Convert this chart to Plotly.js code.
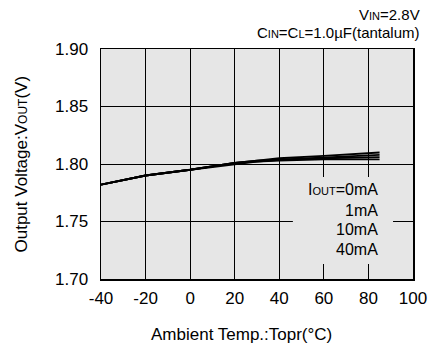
<!DOCTYPE html>
<html>
<head>
<meta charset="utf-8">
<script src="https://cdn.plot.ly/plotly-3.0.1.min.js"></script>
<style>html,body{margin:0;padding:0;background:#fff;}#chart{width:435px;height:348px;}</style>
</head>
<body>
<div id="chart"></div>
<script>
const temps = [-40, -20, 0, 20, 30, 40, 60, 85];
const vout0mA  = [1.782, 1.790, 1.795, 1.801, 1.803, 1.805, 1.807, 1.810];
const vout1mA  = [1.782, 1.790, 1.795, 1.801, 1.803, 1.804, 1.806, 1.808];
const vout10mA = [1.782, 1.790, 1.795, 1.801, 1.802, 1.8035, 1.805, 1.806];
const vout40mA = [1.782, 1.790, 1.795, 1.800, 1.802, 1.803, 1.804, 1.804];
const seriesNames = ['0mA', '1mA', '10mA', '40mA'];
const xTicks = [-40, -20, 0, 20, 40, 60, 80, 100];
const yTicks = [1.70, 1.75, 1.80, 1.85, 1.90];

const sc = (s, px) => '<span style="font-size:' + px + 'px">' + s + '</span>';
const fam = 'Liberation Sans, Arial, sans-serif';
const f = (size) => ({family: fam, color: '#000', size: size});

const allSeries = [vout0mA, vout1mA, vout10mA, vout40mA];
const traces = allSeries.map((ys, i) => ({
  x: temps, y: ys, type: 'scatter', mode: 'lines', name: seriesNames[i],
  line: {color: '#000', width: 1.8}, showlegend: false
}));

const legendLines = ['I' + sc('OUT', 11) + '=' + seriesNames[0], seriesNames[1], seriesNames[2], seriesNames[3]];
const legendY = [0.391, 0.300, 0.215, 0.130];
const annotations = legendLines.map((t, i) => ({
  text: t, xref: 'paper', yref: 'paper', x: 0.894, y: legendY[i],
  xanchor: 'right', yanchor: 'middle', showarrow: false, font: f(16)
}));
annotations.push({
  text: 'V' + sc('IN', 11) + '=2.8V', xref: 'paper', yref: 'paper', x: 1.03, y: 1.148,
  xanchor: 'right', yanchor: 'middle', showarrow: false, font: f(15)
});
annotations.push({
  text: 'C' + sc('IN', 11) + '=C' + sc('L', 11) + '=1.0µF(tantalum)', xref: 'paper', yref: 'paper', x: 1.03, y: 1.07,
  xanchor: 'right', yanchor: 'middle', showarrow: false, font: f(15)
});
annotations.push({
  text: 'Ambient Temp.:Topr(°C)', xref: 'paper', yref: 'paper', x: 0.449, y: -0.24,
  xanchor: 'center', yanchor: 'middle', showarrow: false, font: f(17)
});
annotations.push({
  text: 'Output Voltage:V' + sc('OUT', 12) + '(V)', xref: 'paper', yref: 'paper', x: -0.258, y: 0.5,
  xanchor: 'center', yanchor: 'middle', showarrow: false, textangle: -90, font: f(17)
});

const layout = {
  width: 435, height: 348,
  margin: {l: 101, r: 22, t: 49, b: 69},
  paper_bgcolor: '#fff', plot_bgcolor: '#e6e6e6',
  font: f(17),
  xaxis: {
    range: [-40, 100], tickvals: xTicks, ticktext: xTicks.map(String),
    showgrid: true, gridcolor: '#000', gridwidth: 1, zeroline: false,
    showline: true, linecolor: '#000', linewidth: 1.5, mirror: true,
    ticks: '', ticklen: 0, tickfont: f(17), ticklabelstandoff: 3
  },
  yaxis: {
    range: [1.70, 1.90], tickvals: yTicks, ticktext: yTicks.map(v => v.toFixed(2)),
    showgrid: true, gridcolor: '#000', gridwidth: 1, zeroline: false,
    showline: true, linecolor: '#000', linewidth: 1.5, mirror: true,
    ticks: '', ticklen: 0, tickfont: f(17), ticklabelstandoff: 8
  },
  shapes: [{
    type: 'rect', xref: 'paper', yref: 'paper', x0: 0.615, x1: 0.936, y0: 0.065, y1: 0.443,
    fillcolor: '#e6e6e6', line: {width: 0}, layer: 'above'
  }],
  annotations: annotations
};

Plotly.newPlot('chart', traces, layout, {staticPlot: true, displayModeBar: false});
</script>
</body>
</html>
